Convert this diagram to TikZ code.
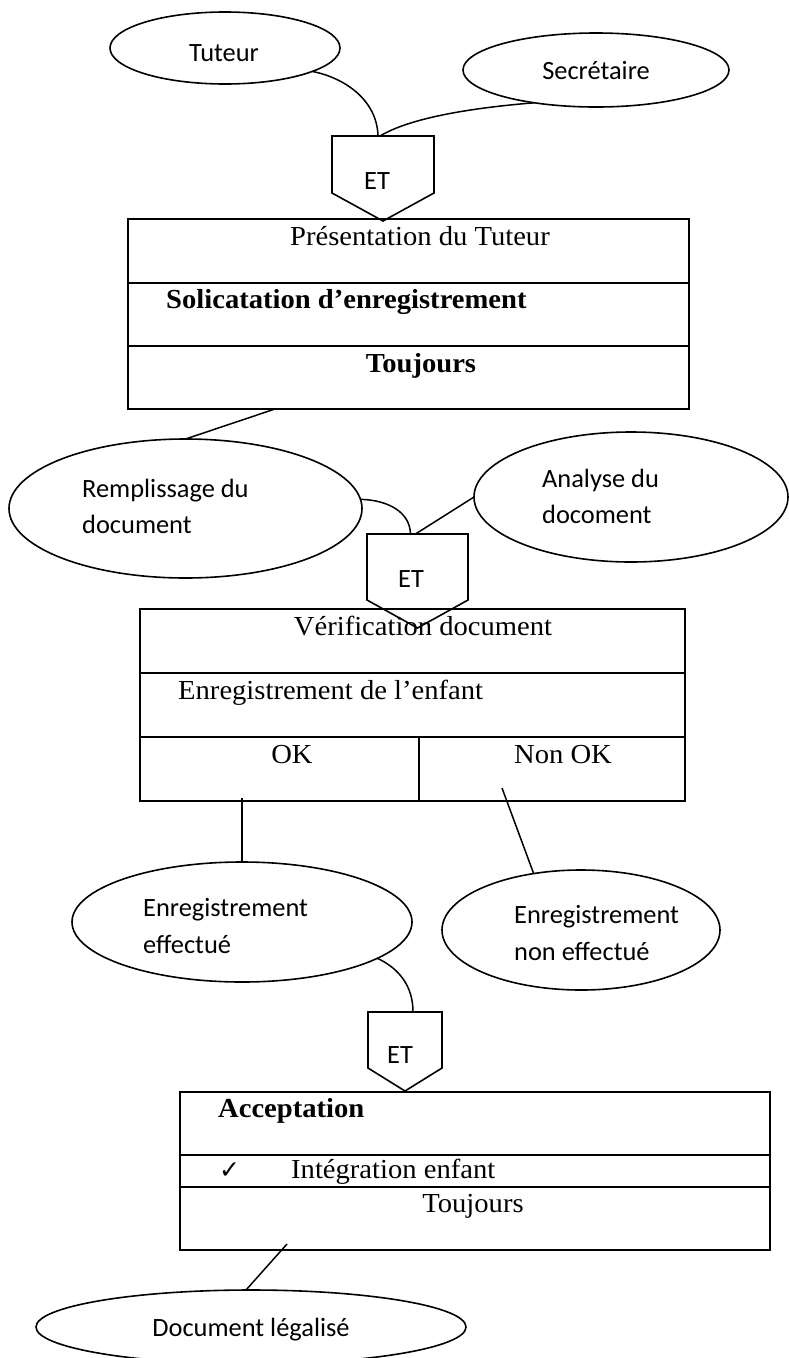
\documentclass[tikz,border=0pt]{standalone}
\usepackage{fontspec}
\usetikzlibrary{shapes.geometric,calc}
\newfontfamily\ovalfamily{Carlito}
\newfontfamily\cellfamily[FakeStretch=1.04]{Liberation Serif}
\newfontfamily\tickfamily{DejaVu Sans}
\newcommand\ovalfont{\ovalfamily\fontsize{26.4pt}{32pt}\selectfont}
\newcommand\cellfont{\cellfamily\fontsize{27.5pt}{33pt}\selectfont}

\begin{document}
\begin{tikzpicture}[x=1pt,y=-1pt,
  oval/.style={ellipse, draw, line width=1.6pt, inner sep=0pt, outer sep=0pt},
  cell/.style={rectangle, draw, line width=2.4pt, inner sep=0pt, outer sep=0pt, anchor=north west},
  gate/.style={rectangle, inner sep=0pt, outer sep=0pt},
  gateline/.style={draw, line width=1.6pt, line join=miter},
  link/.style={line width=1.5pt},
  otxt/.style={font=\ovalfont, inner sep=0pt, anchor=base},
  otxtl/.style={font=\ovalfont, inner sep=0pt, anchor=base west},
  ctxt/.style={font=\cellfont, inner sep=0pt, anchor=base},
  ctxtl/.style={font=\cellfont, inner sep=0pt, anchor=base west},
  cbold/.style={font=\cellfont\bfseries},
]
\fill[white] (0,0) rectangle (789,1358);
\useasboundingbox (0,0) rectangle (789,1358);

% actors and results
\node[oval, minimum width=230pt, minimum height=72pt]  (tut)  at (225,48) {};
\node[oval, minimum width=266pt, minimum height=74pt]  (sec)  at (596,70) {};
\node[oval, minimum width=353pt, minimum height=139pt] (rem)  at (185.5,508.5) {};
\node[oval, minimum width=314pt, minimum height=130pt] (ana)  at (631,497) {};
\node[oval, minimum width=340pt, minimum height=120pt] (eff)  at (242,922) {};
\node[oval, minimum width=278pt, minimum height=120pt] (neff) at (581,930) {};
\node[oval, minimum width=430pt, minimum height=74pt]  (doc)  at (251,1327) {};

\node[otxt]  (tut-t)   at (224,61)  {Tuteur};
\node[otxt]  (sec-t)   at (596,79)  {Secrétaire};
\node[otxtl] (rem-t1)  at (82,497)  {Remplissage du};
\node[otxtl] (rem-t2)  at (82,533)  {document};
\node[otxtl] (ana-t1)  at (542,487) {Analyse du};
\node[otxtl] (ana-t2)  at (542,523) {docoment};
\node[otxtl] (eff-t1)  at (143,916) {Enregistrement};
\node[otxtl] (eff-t2)  at (143,953) {effectué};
\node[otxtl] (neff-t1) at (514,923) {Enregistrement};
\node[otxtl] (neff-t2) at (514,960) {non effectué};
\node[otxt]  (doc-t)   at (251,1336) {Document légalisé};

% ET gates (pentagon pointing down)
\node[gate, minimum width=102pt, minimum height=57pt] (g1) at (383,164.5) {};
\node[gate, minimum width=101pt, minimum height=66pt] (g2) at (417.5,567) {};
\node[gate, minimum width=74pt,  minimum height=56pt] (g3) at (405,1040) {};
\draw[gateline] (g1.north west) -- (g1.north east) -- (g1.south east) -- ($(g1.south)+(0,28)$) -- (g1.south west) -- cycle;
\draw[gateline] (g2.north west) -- (g2.north east) -- (g2.south east) -- ($(g2.south)+(0,28)$) -- (g2.south west) -- cycle;
\draw[gateline] (g3.north west) -- (g3.north east) -- (g3.south east) -- ($(g3.south)+(0,23)$) -- (g3.south west) -- cycle;
\node[otxt] (g1-t) at (377,189)  {ET};
\node[otxt] (g2-t) at (411,587)  {ET};
\node[otxt] (g3-t) at (400,1063) {ET};

% process boxes
\node[cell, minimum width=561pt, minimum height=64pt] (p1) at (128,219) {};
\node[cell, minimum width=561pt, minimum height=63pt] (p2) at (128,283) {};
\node[cell, minimum width=561pt, minimum height=63pt] (p3) at (128,346) {};

\node[cell, minimum width=545pt, minimum height=64pt] (v1)  at (140,609) {};
\node[cell, minimum width=545pt, minimum height=64pt] (v2)  at (140,673) {};
\node[cell, minimum width=279pt, minimum height=64pt] (v3a) at (140,737) {};
\node[cell, minimum width=266pt, minimum height=64pt] (v3b) at (419,737) {};

\node[cell, minimum width=590pt, minimum height=63pt] (a1) at (180,1092) {};
\node[cell, minimum width=590pt, minimum height=32pt] (a2) at (180,1155) {};
\node[cell, minimum width=590pt, minimum height=63pt] (a3) at (180,1187) {};

\node[ctxt]         (p1-t) at (420,245) {Présentation du Tuteur};
\node[ctxtl, cbold] (p2-t) at (166,308) {Solicatation d’enregistrement};
\node[ctxt, cbold]  (p3-t) at (421,372) {Toujours};

\node[ctxt]  (v1-t)  at (423,635) {Vérification document};
\node[ctxtl] (v2-t)  at (178,699) {Enregistrement de l’enfant};
\node[ctxt]  (v3a-t) at (292,763) {OK};
\node[ctxt]  (v3b-t) at (563,763) {Non OK};

\node[ctxtl, cbold] (a1-t) at (218,1117) {Acceptation};
\node[anchor=base west, inner sep=0pt, font=\tickfamily\fontsize{25pt}{28pt}\selectfont] (a2-k) at (219,1178) {✓};
\node[ctxtl] (a2-t) at (291,1178) {Intégration enfant};
\node[ctxt]  (a3-t) at (473,1212) {Toujours};

% connectors
\draw[link] (tut.-15) .. controls (345,78) and (377,100) .. ([xshift=-5pt]g1.north);
\draw[link] ([xshift=-3pt]g1.north) .. controls (410,118) and (470,108) .. (sec.208);
\draw[link] (p3.south -| 275,0) -- (rem.north);
\draw[link] (rem.3) .. controls (388,500) and (410,512) .. ([xshift=-7pt]g2.north);
\draw[link] (ana.west) -- ([xshift=-2pt]g2.north);
\draw[link] ($(v3a.south -| eff.north)+(0,-3)$) -- (eff.north);
\draw[link] ($(v3b.south -| 502,0)+(0,-13)$) -- (neff.130);
\draw[link] (eff.-15.5) .. controls (398,968) and (413,985) .. ([xshift=8pt]g3.north);
\draw[link] ($(a3.south -| 287,0)+(0,-6)$) -- ([xshift=-5pt]doc.north);
\end{tikzpicture}
\end{document}
